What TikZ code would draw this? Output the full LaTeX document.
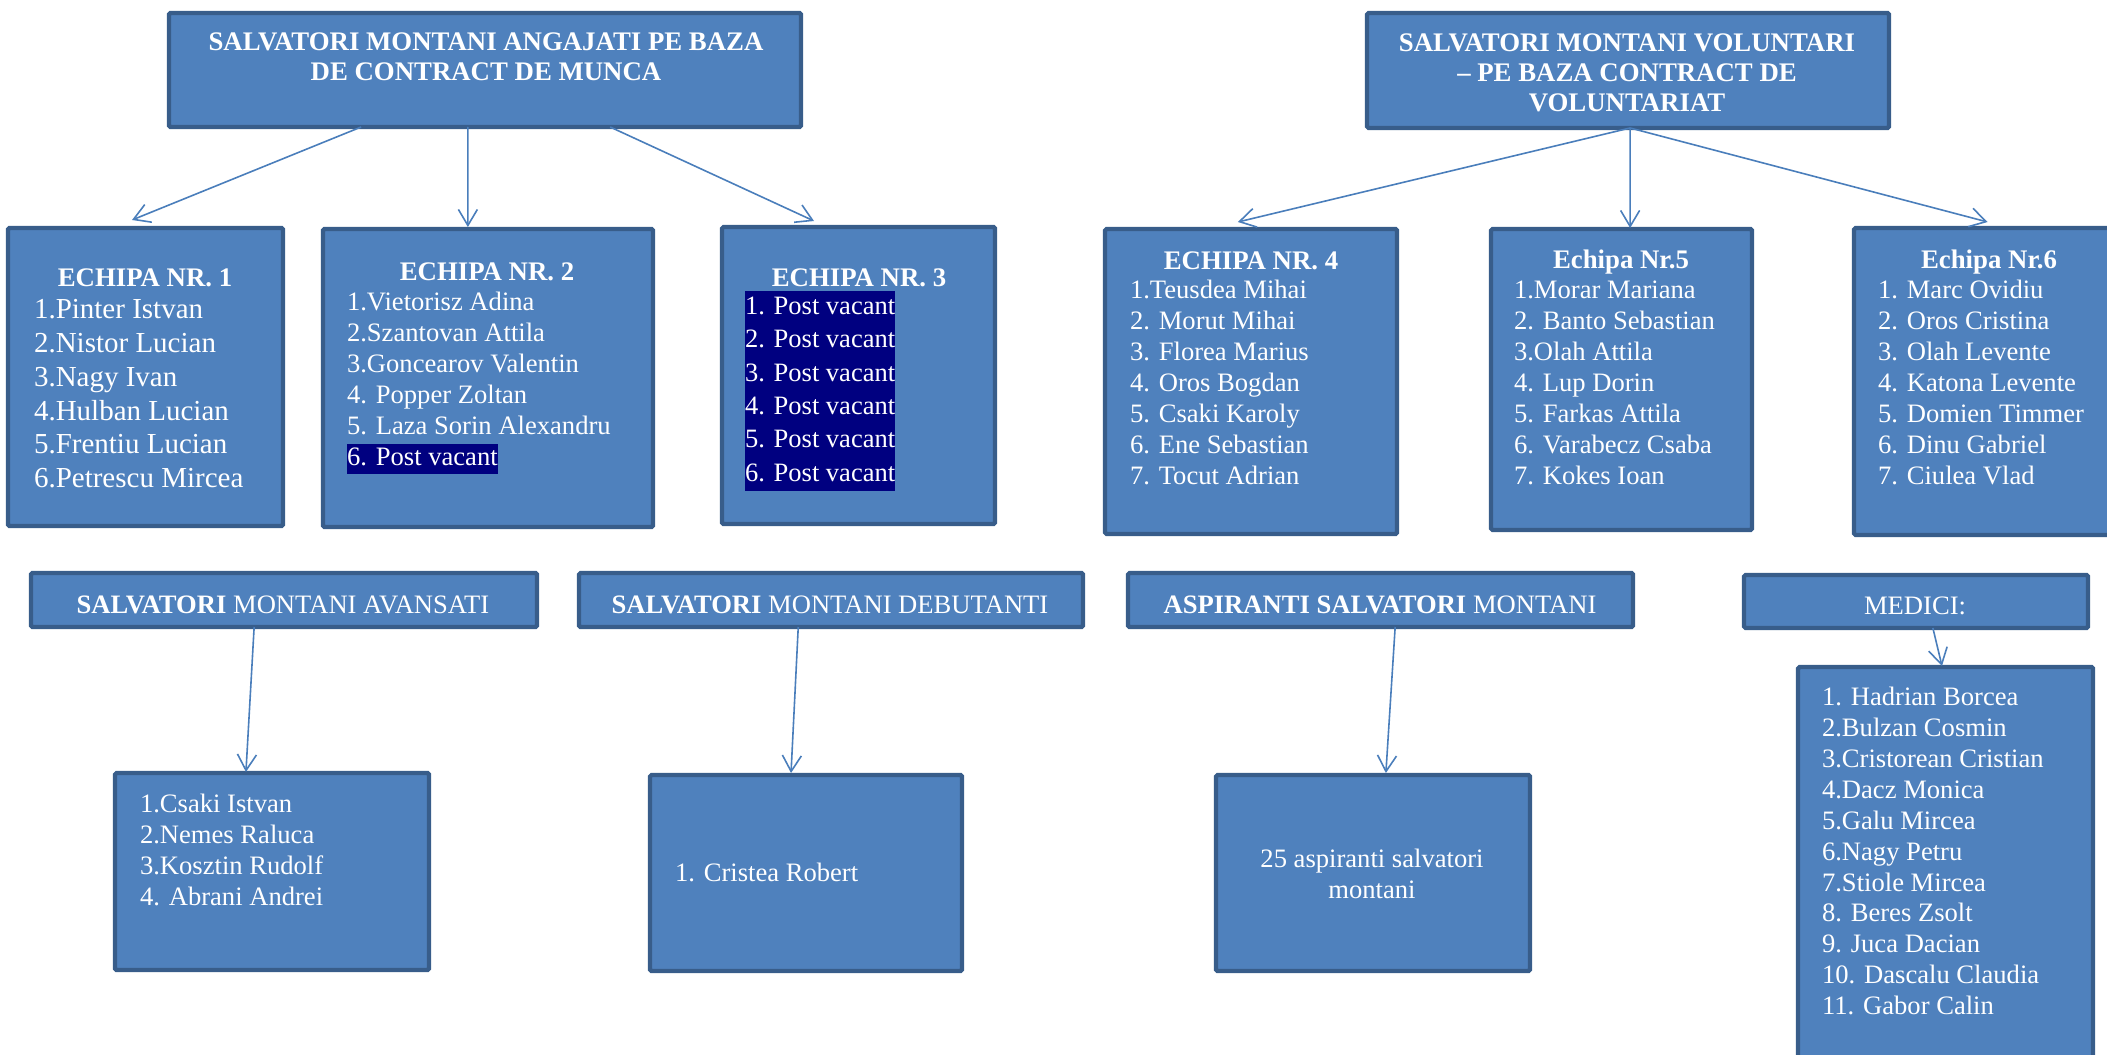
\documentclass[tikz,border=0pt]{standalone}
\usepackage{fontspec}
\setmainfont{Liberation Serif}
\usetikzlibrary{fit,calc,arrows.meta}
\definecolor{boxfill}{HTML}{4F81BD}
\definecolor{boxline}{HTML}{385D8A}
\definecolor{arrowc}{HTML}{4A7EBB}
\definecolor{hl}{HTML}{000080}
\setlength{\fboxsep}{0pt}
\tikzset{
  panel/.style={draw=boxline, line width=2.2pt, fill=boxfill, inner sep=0pt, outer sep=0pt, rounded corners=0.8pt},
  txt/.style={text=white, inner sep=0pt, outer sep=0pt, align=left, anchor=north west},
  ctxt/.style={text=white, inner sep=0pt, outer sep=0pt, align=center, anchor=north},
  htxt/.style={text=white, inner sep=0pt, outer sep=0pt, anchor=base},
  arr/.style={draw=arrowc, line width=0.8pt, -{Straight Barb[length=8pt,width=9.5pt]}},
  fTitle/.style={font=\fontsize{13.4}{15}\selectfont\bfseries},
  fHead/.style={font=\fontsize{13.4}{15}\selectfont\bfseries},
  fBig/.style={font=\fontsize{14.5}{16.9}\selectfont},
  fList/.style={font=\fontsize{13.3}{15.45}\selectfont},
  fVac/.style={font=\fontsize{13.25}{16.7}\selectfont},
}
\newcommand{\boxnode}[5]{%
  \coordinate (#1a) at (#2,#3); \coordinate (#1b) at (#4,#5);
  \node[panel, fit=(#1a)(#1b)] (#1) {};}
\begin{document}
\begin{tikzpicture}[x=0.5pt, y=-0.5pt]
\useasboundingbox (0,0) rectangle (2107,1054);

% boxes
\boxnode{tl}{169}{13}{801}{127}
\boxnode{tr}{1367}{13}{1889}{128}
\boxnode{ea}{8}{228}{283}{526}
\boxnode{eb}{323}{229}{653}{527}
\boxnode{ec}{722}{227}{995}{524}
\boxnode{ed}{1105}{229}{1397}{534}
\boxnode{ee}{1491}{229}{1752}{530}
\boxnode{ef}{1854}{228}{2118}{535}
\boxnode{av}{31}{573}{537}{627}
\boxnode{de}{579}{573}{1083}{627}
\boxnode{as}{1128}{573}{1633}{627}
\boxnode{me}{1744}{575}{2088}{628}
\boxnode{avl}{115}{773}{429}{970}
\boxnode{del}{650}{775}{962}{971}
\boxnode{asl}{1216}{775}{1530}{971}
\boxnode{mel}{1798}{667}{2093}{1075}

% titles
\node[ctxt, fTitle] (tlt) at (486,30) {\strut SALVATORI MONTANI ANGAJATI PE BAZA\\DE CONTRACT DE MUNCA};
\node[ctxt, fTitle] (trt) at (1627,31) {\strut SALVATORI MONTANI VOLUNTARI\\– PE BAZA CONTRACT DE\\VOLUNTARIAT};

% team headers
\node[htxt, fHead] (eah) at (145,286) {ECHIPA NR. 1};
\node[htxt, fHead] (ebh) at (487,280) {ECHIPA NR. 2};
\node[htxt, fHead] (ech) at (859,286) {ECHIPA NR. 3};
\node[htxt, fHead] (edh) at (1251,269) {ECHIPA NR. 4};
\node[htxt, fHead] (eeh) at (1621,268) {Echipa Nr.5};
\node[htxt, fHead] (efh) at (1989,268) {Echipa Nr.6};

% team lists
\node[txt, fBig] (eal) at (34,295) {\strut 1.Pinter Istvan\\2.Nistor Lucian\\3.Nagy Ivan\\4.Hulban Lucian\\5.Frentiu Lucian\\6.Petrescu Mircea};
\node[txt, fList] (ebl) at (347,289) {\strut 1.Vietorisz Adina\\2.Szantovan Attila\\3.Goncearov Valentin\\4. Popper Zoltan\\5. Laza Sorin Alexandru\\\colorbox{hl}{\strut 6. Post vacant}};
\node[txt, fVac, fill=hl] (ecl) at (745,291) {\strut 1. Post vacant\\2. Post vacant\\3. Post vacant\\4. Post vacant\\5. Post vacant\\6. Post vacant\strut};
\node[txt, fList] (edl) at (1130,277) {\strut 1.Teusdea Mihai\\2. Morut Mihai\\3. Florea Marius\\4. Oros Bogdan\\5. Csaki Karoly\\6. Ene Sebastian\\7. Tocut Adrian};
\node[txt, fList] (eel) at (1514,277) {\strut 1.Morar Mariana\\2. Banto Sebastian\\3.Olah Attila\\4. Lup Dorin\\5. Farkas Attila\\6. Varabecz Csaba\\7. Kokes Ioan};
\node[txt, fList] (efl) at (1878,277) {\strut 1. Marc Ovidiu\\2. Oros Cristina\\3. Olah Levente\\4. Katona Levente\\5. Domien Timmer\\6. Dinu Gabriel\\7. Ciulea Vlad};

% bottom headers
\node[htxt, fList] (avt) at (283,613) {\textbf{SALVATORI} MONTANI AVANSATI};
\node[htxt, fList] (det) at (830,613) {\textbf{SALVATORI} MONTANI DEBUTANTI};
\node[htxt, fList] (ast) at (1380,613) {\textbf{ASPIRANTI SALVATORI} MONTANI};
\node[htxt, fList] (met) at (1915,614) {MEDICI:};

% bottom lists
\node[txt, fList] (avlt) at (140,791) {\strut 1.Csaki Istvan\\2.Nemes Raluca\\3.Kosztin Rudolf\\4. Abrani Andrei};
\node[txt, fList] (delt) at (675,860) {\strut 1. Cristea Robert};
\node[ctxt, fList] (aslt) at (1372,846) {\strut 25 aspiranti salvatori\\montani};
\node[txt, fList] (melt) at (1822,684) {\strut 1. Hadrian Borcea\\2.Bulzan Cosmin\\3.Cristorean Cristian\\4.Dacz Monica\\5.Galu Mircea\\6.Nagy Petru\\7.Stiole Mircea\\8. Beres Zsolt\\9. Juca Dacian\\10. Dascalu Claudia\\11. Gabor Calin};

% connectors
\draw[arr] ($(tl.south west)!0.304!(tl.south east)$) -- ($(ea.north west)!0.451!(ea.north east)+(0,-8)$);
\draw[arr] ($(tl.south west)!0.473!(tl.south east)$) -- ($(eb.north west)!0.439!(eb.north east)+(0,-2)$);
\draw[arr] ($(tl.south west)!0.698!(tl.south east)$) -- ($(ec.north west)!0.337!(ec.north east)+(0,-6)$);
\draw[arr] ($(tr.south west)!0.504!(tr.south east)$) -- ($(ed.north west)!0.455!(ed.north east)+(0,-7)$);
\draw[arr] ($(tr.south west)!0.504!(tr.south east)$) -- ($(ee.north west)!0.533!(ee.north east)+(0,-1)$);
\draw[arr] ($(tr.south west)!0.504!(tr.south east)$) -- ($(ef.north west)!0.506!(ef.north east)+(0,-6)$);
\draw[arr] ($(av.south west)!0.441!(av.south east)$) -- ($(avl.north west)!0.417!(avl.north east)+(0,-1)$);
\draw[arr] ($(de.south west)!0.435!(de.south east)$) -- ($(del.north west)!0.452!(del.north east)+(0,-2)$);
\draw[arr] ($(as.south west)!0.529!(as.south east)$) -- ($(asl.north west)!0.541!(asl.north east)+(0,-2)$);
\draw[arr] ($(me.south west)!0.549!(me.south east)$) -- ($(mel.north west)!0.488!(mel.north east)+(0,-1)$);
\end{tikzpicture}
\end{document}
